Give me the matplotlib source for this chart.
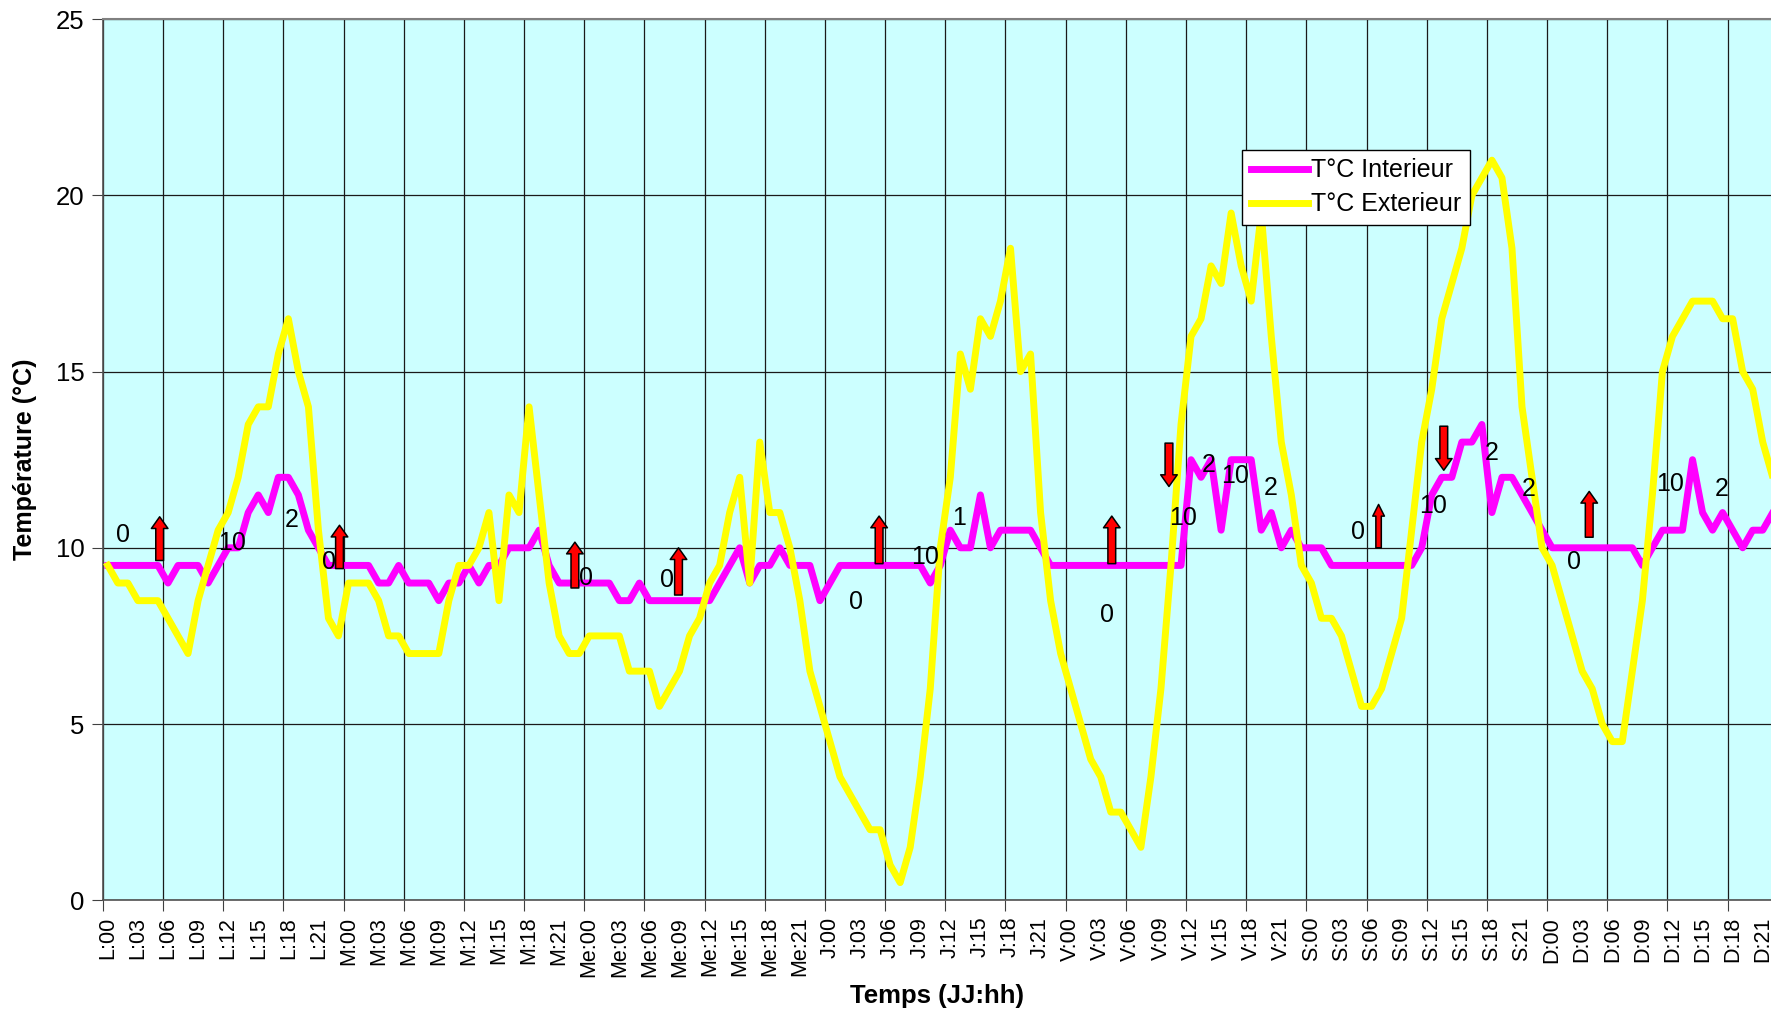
import matplotlib.pyplot as plt
import numpy as np

plt.rcParams['font.family'] = ['Liberation Sans', 'DejaVu Sans']

days = ['L', 'M', 'Me', 'J', 'V', 'S', 'D']
hours = [f'{d}:{h:02d}' for d in days for h in range(24)]

# T°C interieur, one value per hour (L:00 ... D:22)
t_int = [
    9.5, 9.5, 9.5, 9.5, 9.5, 9.5, 9, 9.5, 9.5, 9.5, 9, 9.5, 10, 10, 11, 11.5, 11, 12, 12, 11.5, 10.5, 10, 9.5, 9.5,
    9.5, 9.5, 9.5, 9, 9, 9.5, 9, 9, 9, 8.5, 9, 9, 9.5, 9, 9.5, 9.5, 10, 10, 10, 10.5, 9.5, 9, 9, 9,
    9, 9, 9, 8.5, 8.5, 9, 8.5, 8.5, 8.5, 8.5, 8.5, 8.5, 8.5, 9, 9.5, 10, 9, 9.5, 9.5, 10, 9.5, 9.5, 9.5, 8.5,
    9, 9.5, 9.5, 9.5, 9.5, 9.5, 9.5, 9.5, 9.5, 9.5, 9, 9.5, 10.5, 10, 10, 11.5, 10, 10.5, 10.5, 10.5, 10.5, 10, 9.5, 9.5,
    9.5, 9.5, 9.5, 9.5, 9.5, 9.5, 9.5, 9.5, 9.5, 9.5, 9.5, 9.5, 12.5, 12, 12.5, 10.5, 12.5, 12.5, 12.5, 10.5, 11, 10, 10.5, 10,
    10, 10, 9.5, 9.5, 9.5, 9.5, 9.5, 9.5, 9.5, 9.5, 9.5, 10, 11.5, 12, 12, 13, 13, 13.5, 11, 12, 12, 11.5, 11, 10.5,
    10, 10, 10, 10, 10, 10, 10, 10, 10, 9.5, 10, 10.5, 10.5, 10.5, 12.5, 11, 10.5, 11, 10.5, 10, 10.5, 10.5, 11,
]

# T°C exterieur
t_ext = [
    9.5, 9, 9, 8.5, 8.5, 8.5, 8, 7.5, 7, 8.5, 9.5, 10.5, 11, 12, 13.5, 14, 14, 15.5, 16.5, 15, 14, 10.5, 8, 7.5,
    9, 9, 9, 8.5, 7.5, 7.5, 7, 7, 7, 7, 8.5, 9.5, 9.5, 10, 11, 8.5, 11.5, 11, 14, 11.5, 9, 7.5, 7, 7,
    7.5, 7.5, 7.5, 7.5, 6.5, 6.5, 6.5, 5.5, 6, 6.5, 7.5, 8, 9, 9.5, 11, 12, 9, 13, 11, 11, 10, 8.5, 6.5, 5.5,
    4.5, 3.5, 3, 2.5, 2, 2, 1, 0.5, 1.5, 3.5, 6, 10, 12, 15.5, 14.5, 16.5, 16, 17, 18.5, 15, 15.5, 11, 8.5, 7,
    6, 5, 4, 3.5, 2.5, 2.5, 2, 1.5, 3.5, 6, 9.5, 13.5, 16, 16.5, 18, 17.5, 19.5, 18, 17, 19.5, 16, 13, 11.5, 9.5,
    9, 8, 8, 7.5, 6.5, 5.5, 5.5, 6, 7, 8, 10.5, 13, 14.5, 16.5, 17.5, 18.5, 20, 20.5, 21, 20.5, 18.5, 14, 12, 10,
    9.5, 8.5, 7.5, 6.5, 6, 5, 4.5, 4.5, 6.5, 8.5, 11.5, 15, 16, 16.5, 17, 17, 17, 16.5, 16.5, 15, 14.5, 13, 12,
]

# small numbers written on the chart
note_txt = ['0', '10', '2', '0', '0', '0', '0', '10', '1', '0', '10',
            '2', '10', '2', '0', '10', '2', '2', '0', '10', '2']
note_x = [2.0, 12.9, 18.8, 22.6, 48.2, 56.3, 75.1, 82.0, 85.4, 100.1, 107.7,
          110.3, 112.9, 116.4, 125.1, 132.6, 138.5, 142.2, 146.7, 156.3, 161.4]
note_y = [10.37, 10.14, 10.8, 9.6, 9.14, 9.1, 8.45, 9.75, 10.85, 8.1, 10.85,
          12.35, 12.05, 11.7, 10.45, 11.2, 12.7, 11.67, 9.6, 11.8, 11.67]

# red arrows (x in hours, start value, tip value)
arrow_x = [5.67, 23.6, 47.07, 57.4, 77.4, 100.6, 106.3, 127.2, 133.7, 148.2]
arrow_from = [9.64, 9.41, 8.86, 8.66, 9.55, 9.55, 12.97, 10.0, 13.45, 10.3]
arrow_to = [10.88, 10.64, 10.16, 10.0, 10.9, 10.9, 11.74, 11.23, 12.2, 11.6]
arrow_thin = [False] * 7 + [True] + [False] * 2

W, H = 1771, 1013
fig = plt.figure(figsize=(W / 100, H / 100), dpi=100)
# the original picture is cut on the right: the axes run past the figure edge
ax = fig.add_axes([102.8 / W, 1 - 900.2 / H, 1685 / W, 881 / H])
ax.set_facecolor('#CCFFFF')

x = np.arange(len(t_int)) + 0.5
ax.plot(x, t_int, color='#FF00FF', lw=5, label='T°C Interieur', solid_joinstyle='round', zorder=3)
ax.plot(x, t_ext, color='#FFFF00', lw=5, label='T°C Exterieur', solid_joinstyle='round', zorder=3)

for t, nx, ny in zip(note_txt, note_x, note_y):
    ax.text(nx, ny, t, fontsize=18, ha='center', va='center', zorder=4)

for ax_, a0, a1, thin in zip(arrow_x, arrow_from, arrow_to, arrow_thin):
    style = ('simple,head_length=0.6,head_width=0.85,tail_width=0.4' if not thin
             else 'simple,head_length=0.6,head_width=0.6,tail_width=0.28')
    ax.annotate('', xy=(ax_, a1), xytext=(ax_, a0),
                arrowprops=dict(arrowstyle=style, mutation_scale=14, fc='#FF0000',
                                ec='black', lw=1.1, shrinkA=0, shrinkB=0),
                zorder=5)

ax.set_xlim(0, 168)
ax.set_ylim(0, 25)
ax.set_yticks(range(0, 26, 5))
ax.set_xticks(np.arange(0, 169, 6))
ax.set_xticks(np.arange(0, 168, 3) + 0.5, minor=True)
ax.set_xticklabels(hours[::3], minor=True, rotation=90, fontsize=15.5)
ax.tick_params(axis='x', which='major', length=8, labelbottom=False, color='#404040')
ax.tick_params(axis='x', which='minor', length=0, pad=12)
ax.tick_params(axis='y', length=8, labelsize=18.5, pad=5, color='#404040')
ax.grid(True, which='major', color='#1a1a1a', lw=0.9)
ax.set_axisbelow(True)

for s in ['left', 'bottom']:
    ax.spines[s].set_color('#505050')
    ax.spines[s].set_linewidth(1.2)
ax.spines['top'].set_color('#808080')
ax.spines['top'].set_linewidth(1.5)
ax.spines['right'].set_visible(False)

ax.set_xlabel('Temps (JJ:hh)', fontsize=18.5, fontweight='bold', va='center')
ax.xaxis.set_label_coords((937.5 - 102.8) / 1685, -0.1087)
ax.set_ylabel('Température (°C)', fontsize=18, fontweight='bold', va='center')
ax.yaxis.set_label_coords(-0.0462, 0.5)

leg = ax.legend(loc='upper left', bbox_to_anchor=(113.6 / 168, 21.3 / 25), fontsize=18,
                frameon=True, fancybox=False, framealpha=1, edgecolor='black',
                borderpad=0.35, labelspacing=0.4, handlelength=2.3, handletextpad=0.1,
                borderaxespad=0)
leg.get_frame().set_linewidth(1.0)
leg.set_zorder(10)

fig.savefig('out.png', dpi=100)
